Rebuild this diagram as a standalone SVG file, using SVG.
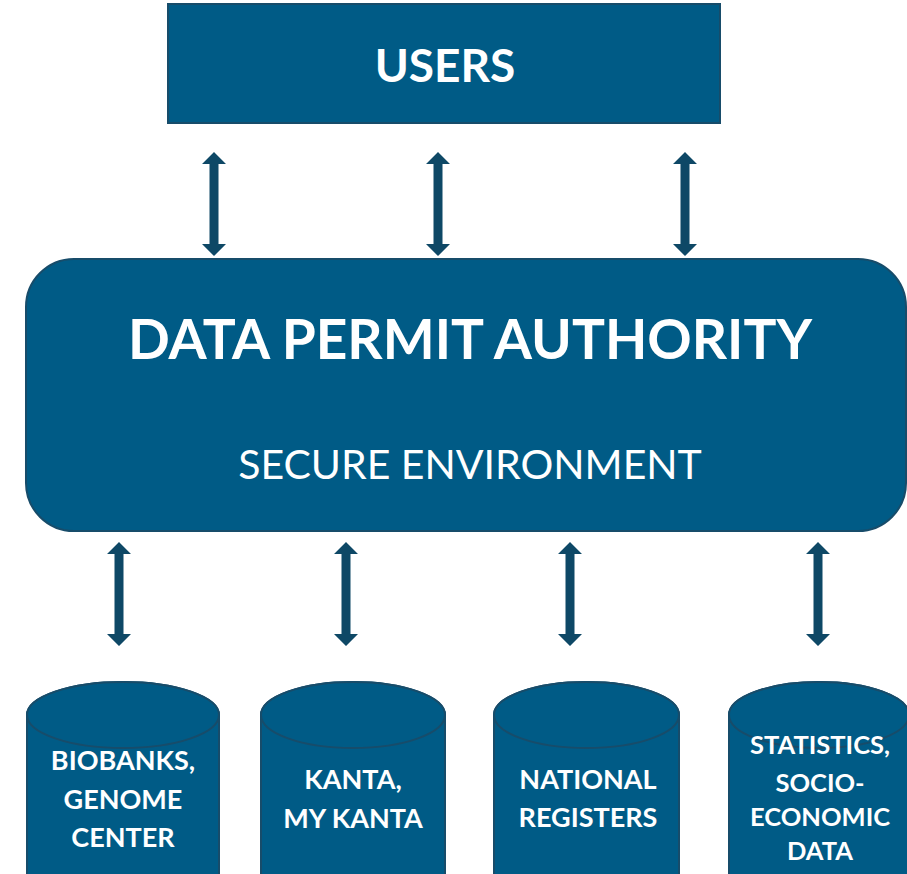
<svg xmlns="http://www.w3.org/2000/svg" width="907" height="874" viewBox="0 0 907 874">
<style>
.box{fill:#005B86;stroke:#174C6A;stroke-width:2}
.arr{fill:#0E4866}
.t{font-family:Lato,"Open Sans","Liberation Sans",sans-serif;fill:#fff;text-anchor:middle}
.b{font-weight:bold}
.lbl{font-size:27px;font-weight:bold}
.lbl.sm{font-size:25.5px}
</style>
<defs>
<path id="dbl" d="M0,-52 L12,-40 L4.5,-40 L4.5,40 L12,40 L0,52 L-12,40 L-4.5,40 L-4.5,-40 L-12,-40 Z"/>
</defs>
<g id="connectors" class="arr">
<use href="#dbl" x="214" y="204"/>
<use href="#dbl" x="438" y="204"/>
<use href="#dbl" x="685" y="204"/>
<use href="#dbl" x="119" y="594"/>
<use href="#dbl" x="346" y="594"/>
<use href="#dbl" x="570" y="594"/>
<use href="#dbl" x="818" y="594"/>
</g>
<g id="users">
<rect class="box" x="168" y="4" width="552" height="119"/>
<text class="t b" x="445" y="82" font-size="46">USERS</text>
</g>
<g id="dpa">
<rect class="box" x="26" y="259" width="880" height="272" rx="48" ry="48"/>
<text class="t b" x="470" y="359" font-size="55">DATA PERMIT AUTHORITY</text>
<text class="t" x="470" y="479" font-size="41">SECURE ENVIRONMENT</text>
</g>
<g id="biobanks">
<path class="box" d="M27,715 L27,880 L219,880 L219,715 A96,33 0 0 0 27,715 Z"/>
<ellipse class="box" cx="123" cy="715" rx="96" ry="33"/>
<text class="t lbl" x="123" y="770">BIOBANKS,</text>
<text class="t lbl" x="123" y="809">GENOME</text>
<text class="t lbl" x="123" y="847">CENTER</text>
</g>
<g id="kanta">
<path class="box" d="M261,715 L261,880 L445,880 L445,715 A92,33 0 0 0 261,715 Z"/>
<ellipse class="box" cx="353" cy="715" rx="92" ry="33"/>
<text class="t lbl" x="353" y="789">KANTA,</text>
<text class="t lbl" x="353" y="828">MY KANTA</text>
</g>
<g id="registers">
<path class="box" d="M494,715 L494,880 L679,880 L679,715 A92.5,33 0 0 0 494,715 Z"/>
<ellipse class="box" cx="586.5" cy="715" rx="92.5" ry="33"/>
<text class="t lbl" x="588" y="789">NATIONAL</text>
<text class="t lbl" x="588" y="827">REGISTERS</text>
</g>
<g id="statistics">
<path class="box" d="M729,715 L729,880 L909,880 L909,715 A90,33 0 0 0 729,715 Z"/>
<ellipse class="box" cx="819" cy="715" rx="90" ry="33"/>
<text class="t lbl sm" x="820" y="754">STATISTICS,</text>
<text class="t lbl sm" x="820" y="792">SOCIO-</text>
<text class="t lbl sm" x="820" y="826">ECONOMIC</text>
<text class="t lbl sm" x="820" y="860">DATA</text>
</g>
</svg>
